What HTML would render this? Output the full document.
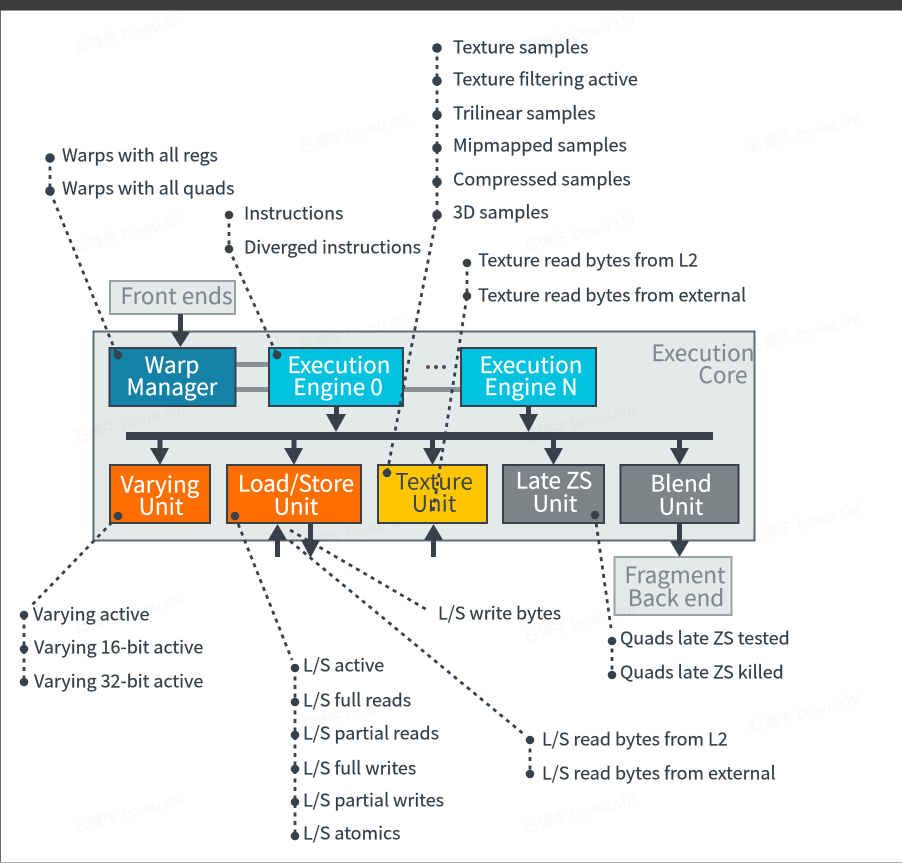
<!DOCTYPE html>
<html><head><meta charset="utf-8"><style>
html,body{margin:0;padding:0;background:#fff;width:902px;height:863px;overflow:hidden}
svg{display:block}
text{font-family:"Noto Sans CJK SC","Liberation Sans",sans-serif}
.l{font-size:17.9px;fill:#333e48;stroke:#333e48;stroke-width:.2}
.w{font-size:22.5px;fill:#fff;text-anchor:middle;stroke:#fff;stroke-width:.2}
.g{font-size:22.5px;fill:#7f8a90;text-anchor:middle;stroke:#7f8a90;stroke-width:.15}
.d{fill:none;stroke:#36414b;stroke-width:2.8;stroke-dasharray:4 4.5}
.wm{font-size:15.4px;fill:#36414b;fill-opacity:.035}
.fx{filter:blur(.35px)}
</style></head><body>
<svg width="902" height="863" viewBox="0 0 902 863" xmlns="http://www.w3.org/2000/svg">
<rect width="902" height="863" fill="#fff"/>
<g class="fx">
<!-- core -->
<rect x="93.500" y="331.500" width="661" height="209" fill="#e4e9e9" stroke="#5f6b72" stroke-width="2"/>

<!-- grey connectors -->
<rect x="236" y="362" width="33" height="5" fill="#8a9094"/>
<rect x="236" y="387" width="33" height="5" fill="#8a9094"/>
<rect x="403" y="387" width="58" height="5" fill="#8a9094"/>

<!-- front ends -->
<rect x="110" y="281" width="125" height="33" fill="#e4e9e9" stroke="#9aa2a6" stroke-width="2"/>
<text class="g" x="176.500" y="304">Front ends</text>
<rect x="178" y="314" width="5" height="20" fill="#36414b"/>
<polygon points="171,332 190,332 180.500,347" fill="#36414b"/>

<!-- engines -->
<rect x="109.500" y="348" width="126" height="58" fill="#1481a6" stroke="#36414b" stroke-width="2"/>
<text class="w" x="172" y="373">Warp</text>
<text class="w" x="172" y="395">Manager</text>
<rect x="269" y="348" width="134" height="58" fill="#00c1de" stroke="#36414b" stroke-width="2"/>
<text class="w" x="339" y="373">Execution</text>
<text class="w" x="338" y="395">Engine 0</text>
<rect x="461" y="348" width="135" height="58" fill="#00c1de" stroke="#36414b" stroke-width="2"/>
<text class="w" x="531" y="373">Execution</text>
<text class="w" x="531" y="395">Engine N</text>
<circle cx="428" cy="367" r="2" fill="#6b5a4c"/><circle cx="436" cy="367" r="2" fill="#4a4a4a"/><circle cx="444" cy="367" r="2" fill="#4a5058"/>
<text class="g" x="703" y="361">Execution</text>
<text class="g" x="723" y="383">Core</text>

<!-- bus -->
<rect x="126" y="432" width="587" height="8" fill="#36414b"/>
<g fill="#36414b">
<rect x="334" y="406" width="5" height="12"/><polygon points="326,414 346,414 336,432"/>
<rect x="526" y="406" width="5" height="12"/><polygon points="519,414 538,414 528.500,432"/>
<rect x="157.500" y="440" width="5" height="10"/><polygon points="150,448 169,448 160,465"/>
<rect x="291.500" y="440" width="5" height="10"/><polygon points="284,448 303,448 294,465"/>
<rect x="430" y="440" width="5" height="10"/><polygon points="423,448 442,448 432.500,465"/>
<rect x="551" y="440" width="5" height="10"/><polygon points="544,448 563,448 553.500,465"/>
<rect x="677" y="440" width="5" height="10"/><polygon points="670,448 689,448 679.500,465"/>
</g>

<!-- units -->
<rect x="110" y="465" width="100" height="58" fill="#ff6e00" stroke="#36414b" stroke-width="2"/>
<text class="w" x="160" y="492.500">Varying</text><text class="w" x="161" y="514.500">Unit</text>
<rect x="227" y="465" width="134" height="58" fill="#ff6e00" stroke="#36414b" stroke-width="2"/>
<text class="w" x="296" y="491.500">Load/Store</text><text class="w" x="296" y="514.500">Unit</text>
<rect x="378" y="465" width="109" height="58" fill="#ffc600" stroke="#36414b" stroke-width="2"/>
<text x="434" y="489.500" style="font-size:22.5px;fill:#3b4650;text-anchor:middle">Texture</text><text x="434" y="511.500" style="font-size:22.5px;fill:#3b4650;text-anchor:middle">Unit</text>
<rect x="503" y="465" width="101" height="58" fill="#7d8488" stroke="#36414b" stroke-width="2"/>
<text class="w" x="554" y="488.500">Late ZS</text><text class="w" x="555" y="511.500">Unit</text>
<rect x="620.500" y="465" width="118" height="58" fill="#7d8488" stroke="#36414b" stroke-width="2"/>
<text class="w" x="681" y="491.500">Blend</text><text class="w" x="681" y="514.500">Unit</text>

<!-- bottom arrows -->
<g fill="#36414b">
<rect x="275" y="540" width="5" height="17"/><polygon points="268,540 287,540 277.500,524"/>
<rect x="308" y="523" width="5" height="19"/><polygon points="301,540 320,540 310.500,558"/>
<rect x="431" y="540" width="5" height="17"/><polygon points="424,540 443,540 433.500,524"/>
<rect x="677" y="523" width="5" height="20"/><polygon points="670,541 689,541 679.500,557"/>
</g>
<rect x="614.500" y="557" width="117" height="58" fill="#e4e9e9" stroke="#9aa2a6" stroke-width="2"/>
<text class="g" x="675" y="583">Fragment</text><text class="g" x="676" y="606">Back end</text>

<!-- dotted leaders -->
<path class="d" d="M50 158V191L117 355"/>
<path class="d" d="M229 215V249L277 355"/>
<path class="d" d="M437 48V215L387 473"/>
<path class="d" d="M467 263V296L433 512"/>
<path class="d" d="M118 516L31 606"/>
<path class="d" d="M24 616V682"/>
<path class="d" d="M235 516L292 660"/>
<path class="d" d="M295 668V835"/>
<path class="d" d="M290 541L526 736"/>
<path class="d" d="M530 740V774"/>
<path class="d" d="M290 530L429 611"/>
<path class="d" d="M595 515L611 628"/>
<path class="d" d="M612 640V674"/>

<!-- dots -->
<g fill="#36414b">
<circle cx="50" cy="158" r="4.800"/><circle cx="50" cy="191" r="4.800"/>
<circle cx="229" cy="215" r="4.300"/><circle cx="229" cy="249" r="4.300"/>
<circle cx="437" cy="48" r="4.800"/><circle cx="437" cy="81" r="4.800"/><circle cx="437" cy="115" r="4.800"/><circle cx="437" cy="148" r="4.800"/><circle cx="437" cy="182" r="4.800"/><circle cx="437" cy="215" r="4.800"/>
<circle cx="467" cy="263" r="4.300"/><circle cx="467" cy="296" r="4.300"/>
<circle cx="118" cy="355" r="4.300"/><circle cx="277" cy="355" r="4.300"/><circle cx="387" cy="473" r="4.300"/>
<circle cx="118" cy="516" r="4.300"/><circle cx="235" cy="516" r="4.300"/><circle cx="595" cy="515" r="4.300"/>
<circle cx="24" cy="615" r="4.300"/><circle cx="24" cy="649" r="4.300"/><circle cx="24" cy="682" r="4.300"/>
<circle cx="295" cy="668" r="4.300"/><circle cx="295" cy="702" r="4.300"/><circle cx="295" cy="735" r="4.300"/><circle cx="295" cy="769" r="4.300"/><circle cx="295" cy="802" r="4.300"/><circle cx="295" cy="836" r="4.300"/>
<circle cx="530" cy="740" r="4.300"/><circle cx="530" cy="774" r="4.300"/>
<circle cx="612" cy="641" r="4.300"/><circle cx="612" cy="675" r="4.300"/>
</g>

<!-- labels -->
<text class="l" x="62" y="161.400">Warps with all regs</text>
<text class="l" x="62" y="194.400">Warps with all quads</text>
<text class="l" x="244" y="219.400">Instructions</text>
<text class="l" x="244" y="253.400">Diverged instructions</text>
<text class="l" x="453" y="53.400">Texture samples</text>
<text class="l" x="453" y="85.400">Texture filtering active</text>
<text class="l" x="453" y="119.400">Trilinear samples</text>
<text class="l" x="453" y="151.400">Mipmapped samples</text>
<text class="l" x="453" y="185.400">Compressed samples</text>
<text class="l" x="453" y="218.400">3D samples</text>
<text class="l" x="478" y="266.400">Texture read bytes from L2</text>
<text class="l" x="478" y="301.400">Texture read bytes from external</text>
<text class="l" x="33" y="620.400">Varying active</text>
<text class="l" x="34" y="653.400">Varying 16-bit active</text>
<text class="l" x="34" y="687.400">Varying 32-bit active</text>
<text class="l" x="303" y="671.400">L/S active</text>
<text class="l" x="303" y="706.400">L/S full reads</text>
<text class="l" x="303" y="739.400">L/S partial reads</text>
<text class="l" x="303" y="774.400">L/S full writes</text>
<text class="l" x="303" y="806.400">L/S partial writes</text>
<text class="l" x="303" y="839.400">L/S atomics</text>
<text class="l" x="438" y="619.400">L/S write bytes</text>
<text class="l" x="542" y="745.400">L/S read bytes from L2</text>
<text class="l" x="542" y="779.400">L/S read bytes from external</text>
<text class="l" x="620" y="644.400">Quads late ZS tested</text>
<text class="l" x="620" y="678.400">Quads late ZS killed</text>
</g>

<rect width="902" height="10" fill="#3c3c3c"/>
<rect y="10" width="902" height="1" fill="#999"/>
<rect y="10" width="1" height="853" fill="#666"/>
<rect y="862" width="902" height="1" fill="#aaa"/>

<!-- watermarks -->
<g class="wm">
<text transform="translate(75 53) rotate(-15)">石博牛 bowu.shi</text>
<text transform="translate(300 153) rotate(-15)">石博牛 bowu.shi</text>
<text transform="translate(525 53) rotate(-15)">石博牛 bowu.shi</text>
<text transform="translate(750 153) rotate(-15)">石博牛 bowu.shi</text>
<text transform="translate(75 253) rotate(-15)">石博牛 bowu.shi</text>
<text transform="translate(525 253) rotate(-15)">石博牛 bowu.shi</text>
<text transform="translate(300 353) rotate(-15)">石博牛 bowu.shi</text>
<text transform="translate(750 353) rotate(-15)">石博牛 bowu.shi</text>
<text transform="translate(75 443) rotate(-15)">石博牛 bowu.shi</text>
<text transform="translate(525 443) rotate(-15)">石博牛 bowu.shi</text>
<text transform="translate(300 553) rotate(-15)">石博牛 bowu.shi</text>
<text transform="translate(750 543) rotate(-15)">石博牛 bowu.shi</text>
<text transform="translate(75 633) rotate(-15)">石博牛 bowu.shi</text>
<text transform="translate(525 643) rotate(-15)">石博牛 bowu.shi</text>
<text transform="translate(300 733) rotate(-15)">石博牛 bowu.shi</text>
<text transform="translate(750 733) rotate(-15)">石博牛 bowu.shi</text>
<text transform="translate(75 833) rotate(-15)">石博牛 bowu.shi</text>
<text transform="translate(525 833) rotate(-15)">石博牛 bowu.shi</text>
</g>
</svg>
</body></html>
